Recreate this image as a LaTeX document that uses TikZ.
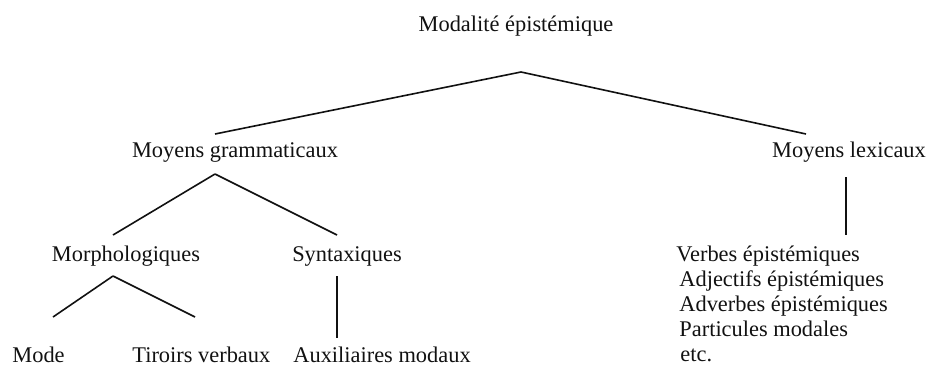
\documentclass[tikz,border=0pt]{standalone}
\usepackage{fontspec}
\setmainfont{Liberation Serif}
\usetikzlibrary{positioning,calc}
\definecolor{ink}{HTML}{111111}
\tikzset{
  lbl/.style={inner sep=0pt,anchor=base,text=ink,font=\fontsize{11.2pt}{12.5pt}\selectfont},
  lblw/.style={lbl,anchor=base west},
  br/.style={draw=ink,line width=.8pt},
}
\begin{document}
\begin{tikzpicture}[x=.5pt,y=-.5pt]
  \useasboundingbox (0,0) rectangle (929,364);
  % levels
  \node[lbl] (top) at (516,32) {Modalité épistémique};
  \node[lbl] (gram) at (235,157) {Moyens grammaticaux};
  \node[lbl] (lex) at (849,157) {Moyens lexicaux};
  \node[lbl] (morph) at (126,261) {Morphologiques};
  \node[lbl] (synt) at (347,261) {Syntaxiques};
  \node[lblw] (mode) at (12,362) {Mode};
  \node[lblw] (tir) at (132,362) {Tiroirs verbaux};
  \node[lblw] (aux) at (293,362) {Auxiliaires modaux};
  % lexical list
  \node[lblw] (lx1) at (676,261) {Verbes épistémiques};
  \node[lblw] (lx2) at (679,286) {Adjectifs épistémiques};
  \node[lblw] (lx3) at (679,311) {Adverbes épistémiques};
  \node[lblw] (lx4) at (679,336) {Particules modales};
  \node[lblw] (lx5) at (680,361) {etc.};
  % branches
  \draw[br] ([shift={(5,40)}]top.base) coordinate (topj) -- ([shift={(-20,-23)}]gram.base);
  \draw[br] (topj) -- ([shift={(-43,-23)}]lex.base);
  \draw[br] ([shift={(-20,17)}]gram.base) coordinate (gramj) -- ([shift={(-13,-26)}]morph.base);
  \draw[br] (gramj) -- ([shift={(-10,-26)}]synt.base);
  \draw[br] ([shift={(-13,15)}]morph.base) coordinate (morphj) -- ([xshift=20.5pt,yshift=22.5pt]mode.base west);
  \draw[br] (morphj) -- ([xshift=31.5pt,yshift=22.5pt]tir.base west);
  \draw[br] ([shift={(-10,15)}]synt.base) -- ([xshift=22pt,yshift=12pt]aux.base west);
  \draw[br] ([shift={(-3,20)}]lex.base) -- ([xshift=85pt,yshift=13pt]lx1.base west);
\end{tikzpicture}
\end{document}
